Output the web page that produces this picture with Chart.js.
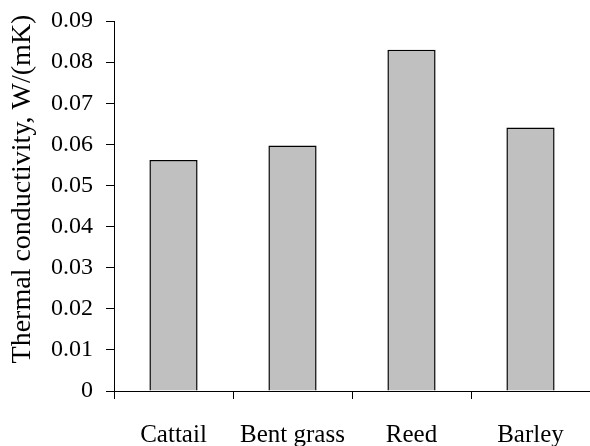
<!DOCTYPE html>
<html>
<head>
<meta charset="utf-8">
<script src="https://cdn.jsdelivr.net/npm/chart.js@4.4.0/dist/chart.umd.min.js"></script>
<style>
  html, body { margin: 0; padding: 0; background: #fff; }
  #wrap { width: 590px; height: 446px; }
</style>
</head>
<body>
<div id="wrap"><canvas id="myChart"></canvas></div>
<script>
// values
const categories = ['Cattail', 'Bent grass', 'Reed', 'Barley'];
const conductivity = [0.0562, 0.0597, 0.0830, 0.0641];
const yTicks = [0, 0.01, 0.02, 0.03, 0.04, 0.05, 0.06, 0.07, 0.08, 0.09];
const yTitle = 'Thermal conductivity, W/(mK)';

const family = '"Liberation Serif", "Times New Roman", serif';

// y title sits a bit above the middle of the axis, so draw it by hand
const yTitlePlugin = {
    id: 'yTitle',
    afterDraw(chart) {
        const ctx = chart.ctx;
        ctx.save();
        ctx.translate(23, 189);
        ctx.rotate(-Math.PI / 2);
        ctx.font = '28px ' + family;
        ctx.fillStyle = '#000';
        ctx.textAlign = 'center';
        ctx.textBaseline = 'middle';
        ctx.fillText(yTitle, 0, 0);
        ctx.restore();
    }
};

new Chart(document.getElementById('myChart'), {
    type: 'bar',
    data: {
        labels: categories,
        datasets: [{
            data: conductivity,
            backgroundColor: '#c0c0c0',
            borderColor: '#000',
            borderWidth: 1.5,
            barPercentage: 0.405,
            categoryPercentage: 1
        }]
    },
    options: {
        responsive: true,
        maintainAspectRatio: false,
        animation: false,
        layout: { padding: { top: 21, right: 0, left: 0, bottom: 0 } },
        plugins: { legend: { display: false }, tooltip: { enabled: false } },
        scales: {
            x: {
                offset: true,
                grid: { offset: true, drawOnChartArea: false, tickLength: 8, color: '#000' },
                border: { color: '#000', width: 1 },
                ticks: { font: { family: family, size: 25 }, color: '#000', padding: 21 },
                afterFit: s => { s.height = 55; }
            },
            y: {
                min: 0,
                max: 0.09,
                afterBuildTicks: s => { s.ticks = yTicks.map(v => ({ value: v })); },
                grid: { drawOnChartArea: false, tickLength: 8, color: '#000' },
                border: { color: '#000', width: 1 },
                ticks: {
                    font: { family: family, size: 24, lineHeight: 0.01 },
                    color: '#000',
                    padding: 13,
                    callback: v => v === 0 ? '0' : v.toFixed(2)
                },
                afterFit: s => { s.width = 114; }
            }
        }
    },
    plugins: [yTitlePlugin]
});
</script>
</body>
</html>
